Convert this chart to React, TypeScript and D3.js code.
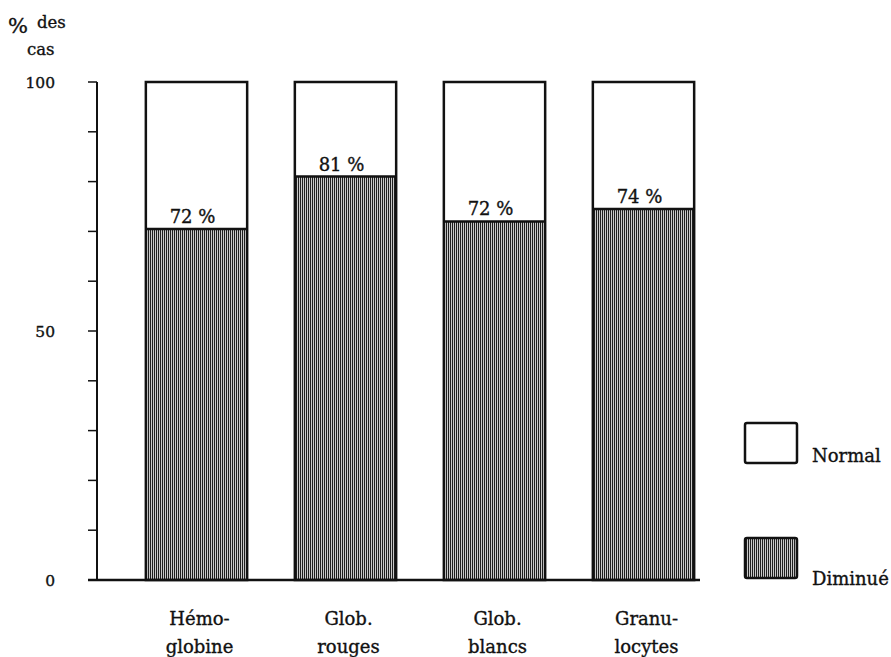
import React from "react";
import * as d3 from "d3";

const categories = ["Hémoglobine", "Glob. rouges", "Glob. blancs", "Granulocytes"];
const labelLines = [["Hémo-", "globine"], ["Glob.", "rouges"], ["Glob.", "blancs"], ["Granu-", "locytes"]];
const diminue = [70.5, 81, 72, 74.5];
const valueLabels = ["72 %", "81 %", "72 %", "74 %"];
const yTickLabels = [0, 50, 100];
const minorTicks = [0, 10, 20, 30, 40, 50, 60, 70, 80, 90, 100];
const legendItems = ["Normal", "Diminué"];

const W = 891;
const H = 657;
const font = "'DejaVu Serif', 'Liberation Serif', serif";
const ink = "#111";

export default function App() {
  const y = d3.scaleLinear().domain([0, 100]).range([580, 82]);
  const x = d3.scaleBand<string>().domain(categories).range([122, 718]).paddingInner(0.32).paddingOuter(0.16);
  const axisX = 97;
  const txt = { fontFamily: font, fill: ink, stroke: ink, strokeWidth: 0.35 } as const;

  return (
    <svg width={W} height={H} style={{ position: "absolute", left: 0, top: 0, background: "#fff" }}>
      <defs>
        <pattern id="hatch" patternUnits="userSpaceOnUse" width={2} height={4}>
          <rect width={2} height={4} fill="#c8c8c8" />
          <rect x={0} width={1} height={4} fill="#1e1e1e" />
        </pattern>
      </defs>

      {/* Y title */}
      <text x={8} y={33} fontSize={21} {...txt}>%</text>
      <text x={37} y={28} fontSize={16.5} {...txt}>des</text>
      <text x={27} y={55} fontSize={16.5} {...txt}>cas</text>

      {/* Y axis */}
      <line x1={axisX} x2={axisX} y1={y(100)} y2={y(0)} stroke={ink} strokeWidth={2} />
      {minorTicks.map((t) => (
        <line key={t} x1={88} x2={axisX} y1={y(t)} y2={y(t)} stroke={ink} strokeWidth={1.5} />
      ))}
      {yTickLabels.map((t) => (
        <text key={t} x={55} y={y(t)} dy="0.36em" textAnchor="end" fontSize={15.5} {...txt}>
          {t}
        </text>
      ))}

      {/* bars */}
      {categories.map((c, i) => {
        const x0 = x(c)!;
        const bw = x.bandwidth();
        return (
          <g key={c}>
            <rect x={x0} y={y(diminue[i])} width={bw} height={y(0) - y(diminue[i])} fill="url(#hatch)" />
            <rect x={x0} y={y(100)} width={bw} height={y(diminue[i]) - y(100)} fill="#fff" />
            <rect x={x0} y={y(100)} width={bw} height={y(0) - y(100)} fill="none" stroke={ink} strokeWidth={2.5} />
            <line x1={x0} x2={x0 + bw} y1={y(diminue[i])} y2={y(diminue[i])} stroke={ink} strokeWidth={2.5} />
            <text x={x0 + bw / 2 - 4} y={y(diminue[i]) - 6} textAnchor="middle" fontSize={18} {...txt}>
              {valueLabels[i]}
            </text>
            {labelLines[i].map((l, j) => (
              <text key={j} x={x0 + bw / 2 + 3} y={625 + j * 28} textAnchor="middle" fontSize={18} {...txt}>
                {l}
              </text>
            ))}
          </g>
        );
      })}

      {/* baseline */}
      <line x1={88} x2={700} y1={y(0)} y2={y(0)} stroke={ink} strokeWidth={2.5} />

      {/* legend */}
      {legendItems.map((l, i) => {
        const top = i === 0 ? 423 : 538;
        return (
          <g key={l}>
            <rect x={745} y={top} width={52} height={40} rx={2} fill={i === 0 ? "#fff" : "url(#hatch)"} stroke={ink} strokeWidth={2.5} />
            <text x={812} y={top + (i === 0 ? 39 : 47)} fontSize={18} {...txt}>{l}</text>
          </g>
        );
      })}
    </svg>
  );
}
